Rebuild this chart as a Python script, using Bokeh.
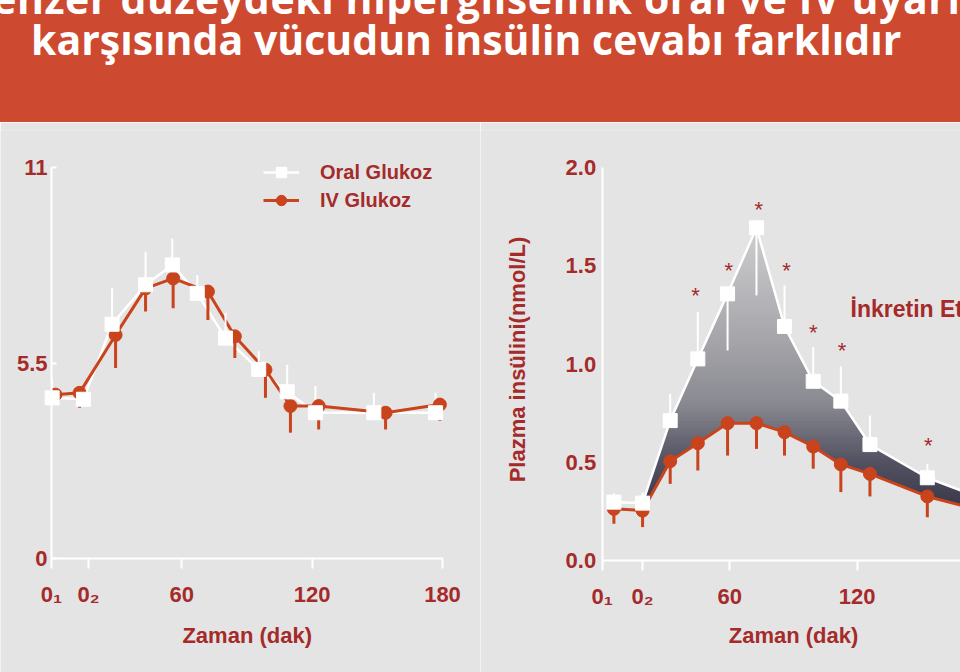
import numpy as np
from bokeh.plotting import figure
from bokeh.models import Range1d, Div, Legend, LegendItem, Label, FixedTicker
from bokeh.layouts import column, row
from bokeh.embed import file_html
from bokeh.resources import INLINE
from bokeh.core.properties import value

# ---------------- texts ----------------
TITLE_1 = "Benzer düzeydeki hiperglisemik oral ve IV uyarı"
TITLE_2 = "karşısında vücudun insülin cevabı farklıdır"
X_LABEL = "Zaman (dak)"
Y_LABEL_INS = "Plazma insülini(nmol/L)"
LEGEND_ORAL = "Oral Glukoz"
LEGEND_IV = "IV Glukoz"
EFFECT_LABEL = "İnkretin Etkisi"

# ---------------- left panel: plasma glucose ----------------
glu_xticks = [0, 17, 60, 120, 180]
glu_xtick_labels = ["0₁", "0₂", "60", "120", "180"]
glu_yticks = [0, 5.5, 11]
glu_ytick_labels = ["0", "5.5", "11"]

glu_oral_t = [0.3, 14.7, 27.9, 43.3, 55.6, 67.1, 80.1, 95.4, 108.5, 121.5, 148.4, 176.8]
glu_oral = [4.52, 4.48, 6.59, 7.70, 8.26, 7.46, 6.20, 5.32, 4.69, 4.10, 4.10, 4.10]
glu_oral_hi = [5.04, 4.80, 7.60, 8.63, 9.00, 7.97, 6.90, 5.83, 5.45, 4.85, 4.66, 4.66]

glu_iv_t = [1.8, 12.9, 29.5, 43.3, 56.0, 72.0, 84.4, 98.5, 110.0, 123.0, 153.8, 178.8]
glu_iv = [4.61, 4.66, 6.29, 7.60, 7.88, 7.51, 6.25, 5.31, 4.29, 4.29, 4.10, 4.33]
glu_iv_lo = [4.43, 4.24, 5.36, 6.95, 7.04, 6.71, 5.64, 4.52, 3.54, 3.63, 3.63, 3.87]

# ---------------- right panel: plasma insulin ----------------
ins_xticks = [0, 19, 60, 120, 180]
ins_xtick_labels = ["0₁", "0₂", "60", "120", "180"]
ins_yticks = [0.0, 0.5, 1.0, 1.5, 2.0]

ins_t = [5.5, 19.0, 32.0, 45.0, 59.0, 72.6, 85.8, 99.3, 112.3, 126.0, 153.0, 180.0]
ins_oral = [0.297, 0.292, 0.712, 1.026, 1.357, 1.693, 1.191, 0.912, 0.811, 0.590, 0.421, 0.31]
ins_oral_bar = [0.342, 0.345, 0.848, 1.264, 1.069, 1.349, 1.400, 1.086, 0.987, 0.738, 0.492, 0.37]
ins_iv = [0.263, 0.254, 0.505, 0.597, 0.699, 0.699, 0.653, 0.580, 0.489, 0.441, 0.326, 0.25]
ins_iv_lo = [0.187, 0.170, 0.390, 0.458, 0.534, 0.568, 0.534, 0.467, 0.348, 0.326, 0.220, 0.18]

star_t = [43.9, 59.6, 73.7, 86.7, 99.3, 112.9, 153.4]
star_y = [1.357, 1.488, 1.798, 1.484, 1.170, 1.077, 0.597]

# ---------------- styles ----------------
BG = "#e4e4e4"
HEADER_RED = "#cd4a30"
DARK_RED = "#a52a2a"
IV_RED = "#c9431c"
WHITE = "#ffffff"
FONT = "Liberation Sans"

grad_v = [0.2, 0.5, 0.8, 1.2, 1.8]
grad_c = [(50, 50, 66), (82, 82, 98), (138, 138, 146), (172, 172, 176), (214, 214, 216)]


def grad(v):
    r = np.interp(v, grad_v, [c[0] for c in grad_c])
    g = np.interp(v, grad_v, [c[1] for c in grad_c])
    b = np.interp(v, grad_v, [c[2] for c in grad_c])
    return "#%02x%02x%02x" % (int(r), int(g), int(b))


def style_fig(p):
    p.background_fill_color = BG
    p.border_fill_color = BG
    p.outline_line_color = None
    p.xgrid.visible = False
    p.ygrid.visible = False
    for ax in list(p.xaxis) + list(p.yaxis):
        ax.axis_line_color = WHITE
        ax.axis_line_width = 2
        ax.major_tick_line_color = WHITE
        ax.major_tick_line_width = 2
        ax.minor_tick_line_color = None
        ax.major_label_text_font = FONT
        ax.major_label_text_font_style = "bold"
        ax.major_label_text_font_size = "22px"
        ax.major_label_text_color = DARK_RED
    p.xaxis.major_tick_in = 0
    p.xaxis.major_tick_out = 10
    p.xaxis.major_label_standoff = 13
    p.xaxis.fixed_location = 0
    p.yaxis.fixed_location = 0


HEADER_H = 122
FIG_H = 672 - HEADER_H
FRAME_TOP = 130 - HEADER_H

# ---------------- left figure ----------------
# page x = 51 + PX_L * t ; page y = 558 - PY_L * v
PX_L = 391.0 / 180.0
PY_L = 391.0 / 11.0
p1 = figure(width=480, height=FIG_H, output_backend="svg", toolbar_location=None,
            x_range=Range1d(-51.0 / PX_L, (480.0 - 51.0) / PX_L),
            y_range=Range1d((558.0 - 672.0) / PY_L, (558.0 - 130.0) / PY_L),
            min_border_left=0, min_border_right=0, min_border_top=FRAME_TOP, min_border_bottom=0)
style_fig(p1)
p1.xaxis.ticker = FixedTicker(ticks=glu_xticks)
p1.xaxis.major_label_overrides = {t: s for t, s in zip(glu_xticks, glu_xtick_labels)}
p1.xaxis.bounds = (glu_xticks[0], glu_xticks[-1])
p1.yaxis.ticker = FixedTicker(ticks=glu_yticks)
p1.yaxis.major_label_overrides = {t: s for t, s in zip(glu_yticks, glu_ytick_labels)}
p1.yaxis.bounds = (glu_yticks[0], glu_yticks[-1])
p1.yaxis.major_tick_in = 5
p1.yaxis.major_tick_out = 0
p1.yaxis.major_label_standoff = 4

lo_line = p1.line(glu_oral_t, glu_oral, line_color=WHITE, line_width=2.5)
li_line = p1.line(glu_iv_t, glu_iv, line_color=IV_RED, line_width=3)
p1.segment(x0=glu_oral_t, y0=glu_oral, x1=glu_oral_t, y1=glu_oral_hi, line_color=WHITE, line_width=2)
p1.segment(x0=glu_iv_t, y0=glu_iv, x1=glu_iv_t, y1=glu_iv_lo, line_color=IV_RED, line_width=3)
li_pts = p1.scatter(glu_iv_t, glu_iv, marker="circle", size=13, fill_color=IV_RED, line_color=IV_RED)
lo_pts = p1.scatter(glu_oral_t, glu_oral, marker="square", size=14, fill_color=WHITE, line_color=WHITE)

legend = Legend(items=[LegendItem(label=LEGEND_ORAL, renderers=[lo_line, lo_pts]),
                       LegendItem(label=LEGEND_IV, renderers=[li_line, li_pts])],
                location=(263, 459), orientation="vertical",
                glyph_width=36, glyph_height=26, label_standoff=21, spacing=2,
                padding=0, margin=0, border_line_color=None, background_fill_alpha=0,
                label_text_font=FONT, label_text_font_style="bold",
                label_text_font_size="20px", label_text_color=DARK_RED)
p1.add_layout(legend)
p1.add_layout(Label(x=(246.7 - 51.0) / PX_L, y=(558.0 - 635.0) / PY_L, text=X_LABEL,
                    text_align="center", text_baseline="middle",
                    text_font=FONT, text_font_style="bold", text_font_size="22px",
                    text_color=DARK_RED))

# ---------------- right figure ----------------
# page x = 601.7 + PX_R * t ; page y = 560 - PY_R * v
PX_R = 2.125
PY_R = 196.5
X0_R = 601.7 - 480.0
p2 = figure(width=480, height=FIG_H, output_backend="svg", toolbar_location=None,
            x_range=Range1d(-X0_R / PX_R, (480.0 - X0_R) / PX_R),
            y_range=Range1d((560.0 - 672.0) / PY_R, (560.0 - 130.0) / PY_R),
            min_border_left=0, min_border_right=0, min_border_top=FRAME_TOP, min_border_bottom=0)
style_fig(p2)
p2.xaxis.ticker = FixedTicker(ticks=ins_xticks)
p2.xaxis.major_label_overrides = {t: s for t, s in zip(ins_xticks, ins_xtick_labels)}
p2.xaxis.bounds = (0, (480.0 - X0_R) / PX_R)
p2.yaxis.ticker = FixedTicker(ticks=ins_yticks)
p2.yaxis.major_label_overrides = {t: "%.1f" % t for t in ins_yticks}
p2.yaxis.bounds = (ins_yticks[0], ins_yticks[-1])
p2.yaxis.major_tick_in = 0
p2.yaxis.major_tick_out = 0
p2.yaxis.major_label_standoff = 6

# gradient fill between IV and oral curves (bands of colour)
xd = np.linspace(ins_t[1], ins_t[-1], 500)
od = np.interp(xd, ins_t, ins_oral)
ivd = np.interp(xd, ins_t, ins_iv)
levels = np.linspace(od.max() + 0.02, ivd.min(), 90)
for L in levels:
    top = np.maximum(np.minimum(od, L), ivd)
    p2.varea(x=xd, y1=ivd, y2=top, fill_color=grad(L - 0.01), fill_alpha=1.0)

p2.segment(x0=ins_t, y0=ins_iv, x1=ins_t, y1=ins_iv_lo, line_color=IV_RED, line_width=3)
p2.line(ins_t, ins_iv, line_color=IV_RED, line_width=3)
p2.scatter(ins_t, ins_iv, marker="circle", size=13, fill_color=IV_RED, line_color=IV_RED)
p2.segment(x0=ins_t, y0=ins_oral, x1=ins_t, y1=ins_oral_bar, line_color=WHITE, line_width=2)
p2.line(ins_t, ins_oral, line_color=WHITE, line_width=2.5)
p2.scatter(ins_t, ins_oral, marker="square", size=14, fill_color=WHITE, line_color=WHITE)

p2.text(x=star_t, y=star_y, text=["*"] * len(star_t), text_align="center", text_baseline="middle",
        text_font=value(FONT), text_font_size="22px", text_color=DARK_RED, y_offset=2)

p2.add_layout(Label(x=(850.0 - 601.7) / PX_R, y=(560.0 - 308.0) / PY_R, text=EFFECT_LABEL,
                    text_align="left", text_baseline="middle",
                    text_font=FONT, text_font_style="bold", text_font_size="23px",
                    text_color=DARK_RED))
p2.add_layout(Label(x=(793.0 - 601.7) / PX_R, y=(560.0 - 635.0) / PY_R, text=X_LABEL,
                    text_align="center", text_baseline="middle",
                    text_font=FONT, text_font_style="bold", text_font_size="22px",
                    text_color=DARK_RED))
p2.add_layout(Label(x=(516.7 - 601.7) / PX_R, y=(560.0 - 359.0) / PY_R, text=Y_LABEL_INS,
                    angle=np.pi / 2, text_align="center", text_baseline="middle",
                    text_font=FONT, text_font_style="bold", text_font_size="22px",
                    text_color=DARK_RED))

# ---------------- header ----------------
header_html = (
    f'<div style="position:relative;width:960px;height:{HEADER_H}px;overflow:hidden;'
    f'background:{HEADER_RED};font-family:\'Open Sans\',sans-serif;font-weight:bold;'
    f'color:#ffffff;font-size:41px;line-height:41px;white-space:nowrap;">'
    f'<div style="position:absolute;left:-36px;top:-22px;letter-spacing:0.6px;">{TITLE_1}</div>'
    f'<div style="position:absolute;left:31px;top:19px;">{TITLE_2}</div>'
    f'</div>'
)
header = Div(text=header_html, width=960, height=HEADER_H, margin=0)

layout = column(header, row(p1, p2, spacing=0), spacing=0)

with open("out.html", "w") as f:
    f.write(file_html(layout, INLINE))
